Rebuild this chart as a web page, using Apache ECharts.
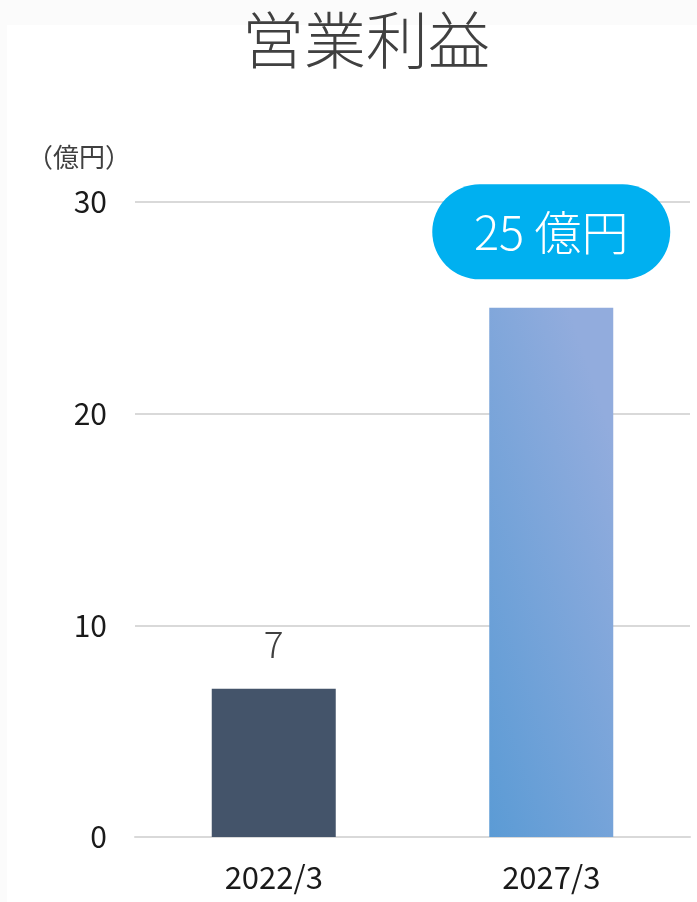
<!DOCTYPE html>
<html>
<head>
<meta charset="utf-8">
<script src="https://cdn.jsdelivr.net/npm/echarts@6/dist/echarts.min.js"></script>
<style>
html,body{margin:0;padding:0;background:#fff;}
#c{width:697px;height:902px;}
</style>
</head>
<body>
<div id="c"></div>
<script>
const titleText = '営業利益';
const unitText = '（億円）';
const categories = ['2022/3', '2027/3'];
const values = [7, 25];
const yTicks = [0, 10, 20, 30];
const calloutSuffix = ' 億円';

const FONT = '"Noto Sans CJK JP", "Noto Sans", sans-serif';
const chart = echarts.init(document.getElementById('c'), null, {renderer: 'canvas'});

const seriesData = values.map((v, i) => {
  if (i === 0) {
    return {
      value: v,
      itemStyle: {color: '#44546A'},
      label: {
        show: true, position: 'top', distance: 26,
        formatter: '{c}', fontSize: 37, color: '#404040', fontFamily: FONT, fontWeight: 300
      }
    };
  }
  return {
    value: v,
    itemStyle: {
      color: new echarts.graphic.LinearGradient(489, 837, 720, 760, [
        {offset: 0, color: '#5B9BD5'},
        {offset: 1, color: '#92ACDD'}
      ], true)
    },
    label: {
      show: true, position: 'top', distance: 76,
      formatter: (p) => p.value + calloutSuffix,
      fontSize: 47, color: '#ffffff', fontFamily: FONT, fontWeight: 300,
      backgroundColor: '#00B0F0', borderRadius: 48,
      width: 238, height: 95, lineHeight: 95, align: 'center', verticalAlign: 'middle',
      padding: 0
    }
  };
});

chart.setOption({
  backgroundColor: '#fbfbfb',
  animation: false,
  graphic: [
    {type: 'rect', z: -10, shape: {x: 7, y: 25, width: 690, height: 877}, style: {fill: '#ffffff'}, silent: true},
    {type: 'text', x: 366, y: 40, style: {text: titleText, fontSize: 62, fontFamily: FONT, fontWeight: 300, fill: '#404040', textAlign: 'center', textVerticalAlign: 'middle'}},
    {type: 'text', x: 27, y: 157, style: {text: unitText, fontSize: 26, fontFamily: FONT, fill: '#404040', textAlign: 'left', textVerticalAlign: 'middle'}}
  ],
  grid: {left: 135, right: 7, top: 202, bottom: 65, containLabel: false},
  xAxis: {
    type: 'category',
    data: categories,
    axisLine: {lineStyle: {color: '#d9d9d9', width: 2}},
    axisTick: {show: false},
    axisLabel: {fontSize: 31, color: '#1a1a1a', fontFamily: FONT, margin: 25}
  },
  yAxis: {
    type: 'value',
    min: yTicks[0], max: yTicks[yTicks.length - 1], interval: yTicks[1] - yTicks[0],
    axisLine: {show: false},
    axisTick: {show: false},
    splitLine: {lineStyle: {color: '#d9d9d9', width: 2}},
    axisLabel: {fontSize: 30, color: '#1a1a1a', fontFamily: FONT, margin: 28}
  },
  series: [{
    type: 'bar',
    data: seriesData,
    barWidth: 124
  }]
});
</script>
</body>
</html>
